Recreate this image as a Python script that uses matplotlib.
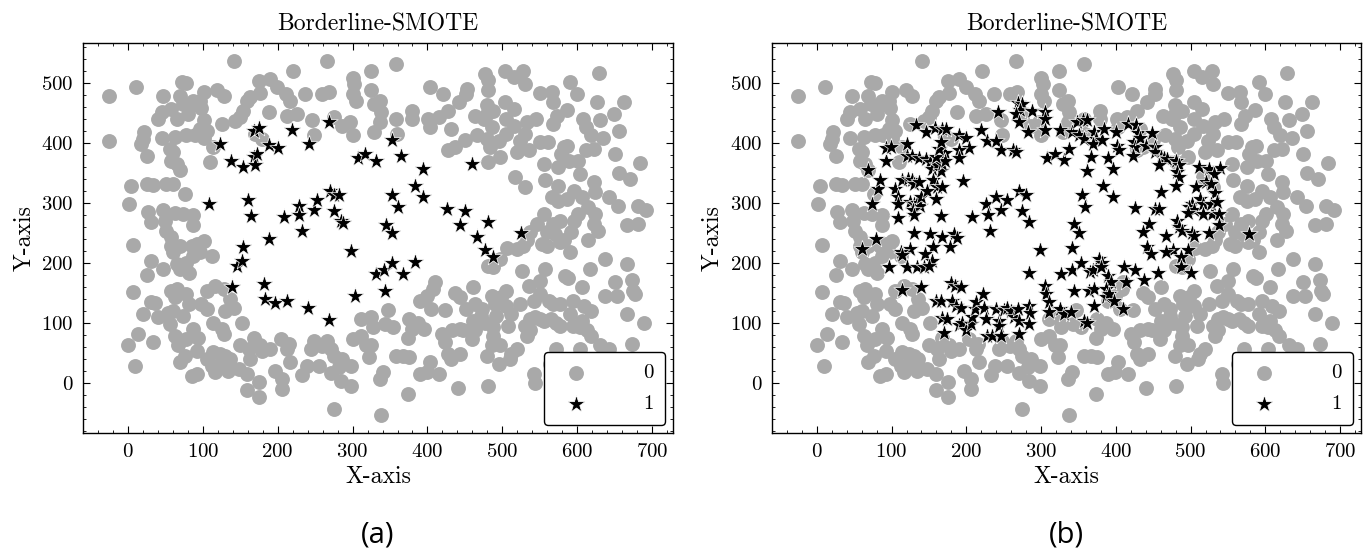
import numpy as np
import matplotlib
matplotlib.use('Agg')
import matplotlib.pyplot as plt
from matplotlib.ticker import MultipleLocator

plt.rcParams['font.family'] = 'cmr10'
plt.rcParams['mathtext.fontset'] = 'cm'
plt.rcParams['axes.formatter.use_mathtext'] = True

# class 0 (majority) points, shared by both panels
gray_pts = [
    (-25, 479), (-25, 403), (11, 494), (141, 537), (266, 537), (324, 521), (47, 479), (40, 441),
    (45, 452), (58, 457), (69, 479), (72, 502), (78, 500), (65, 441), (73, 466), (80, 460),
    (80, 449), (87, 471), (96, 471), (101, 485), (98, 459), (119, 488), (128, 479), (125, 432),
    (101, 438), (96, 424), (105, 421), (78, 413), (89, 413), (101, 409), (63, 411), (45, 409),
    (22, 418), (20, 407), (18, 399), (25, 379), (56, 391), (60, 385), (58, 371), (65, 366),
    (69, 356), (110, 369), (114, 393), (4, 328), (25, 332), (34, 331), (51, 332), (60, 332),
    (76, 316), (2, 298), (27, 285), (31, 268), (47, 289), (49, 271), (51, 254), (63, 283),
    (74, 282), (87, 281), (87, 263), (58, 243), (7, 231), (101, 237), (92, 232),
    (143, 437), (150, 443), (154, 454), (159, 471), (163, 477), (175, 504), (177, 483), (170, 416),
    (179, 407), (190, 507), (199, 493), (211, 482), (217, 471), (188, 452), (213, 446), (226, 448),
    (221, 520), (237, 482), (259, 482), (268, 485), (246, 438), (248, 413), (275, 443), (286, 429),
    (297, 435), (300, 413), (300, 509), (302, 499), (300, 482), (304, 471), (324, 488),
    (358, 532), (329, 466), (336, 471), (338, 452), (336, 435), (329, 419), (358, 441), (359, 416),
    (379, 454), (379, 441), (401, 441), (403, 427), (415, 443), (403, 494), (421, 482), (428, 454),
    (432, 424), (442, 468), (453, 491), (452, 482), (428, 388), (437, 393), (450, 406), (466, 413),
    (463, 446), (477, 516), (481, 506), (481, 488), (479, 463), (479, 449), (475, 441), (488, 454),
    (486, 427), (479, 407), (483, 393), (481, 368), (497, 377), (495, 404), (504, 521), (515, 510),
    (528, 520), (530, 499), (504, 468), (515, 457), (505, 441), (516, 429), (505, 416), (519, 385),
    (523, 404), (533, 435), (545, 441), (530, 416), (536, 388), (550, 483), (566, 485), (568, 468),
    (568, 432), (573, 446), (550, 402), (561, 402), (555, 366), (557, 338), (517, 343), (530, 327),
    (575, 329), (578, 382), (582, 393), (587, 396), (589, 371), (575, 360), (604, 349), (601, 371),
    (586, 456), (591, 502), (600, 482), (608, 441), (612, 427), (619, 413), (612, 388), (622, 391),
    (626, 468), (629, 517), (631, 438), (635, 409), (649, 449), (656, 421), (663, 468), (650, 382),
    (656, 350), (670, 341), (684, 367), (566, 310), (575, 304), (586, 307), (596, 321), (606, 310),
    (622, 335), (624, 318), (642, 310), (655, 296), (681, 296), (692, 289), (681, 266), (667, 263),
    (624, 282), (615, 293), (601, 282), (596, 271), (592, 252), (583, 238), (615, 238), (628, 254),
    (622, 266), (577, 271), (568, 266), (555, 282), (546, 266), (559, 252), (570, 249), (577, 235),
    (553, 232), (537, 252), (533, 238),
    (31, 204), (47, 190), (25, 180), (7, 152), (20, 115), (31, 135), (36, 134), (40, 110),
    (54, 117), (56, 99), (60, 121), (58, 154), (65, 157), (63, 143), (74, 112), (78, 148),
    (81, 132), (63, 79), (67, 63), (78, 74), (87, 91), (94, 75), (76, 46), (69, 36),
    (92, 53), (85, 12), (92, 16), (13, 82), (9, 29), (0, 63), (34, 69), (60, 218),
    (65, 198), (69, 190), (81, 184), (78, 201), (87, 212), (85, 229), (96, 218), (112, 212),
    (69, 229), (58, 229), (105, 154), (116, 162), (128, 157), (136, 140), (141, 126), (98, 132),
    (105, 124), (114, 101), (125, 90), (128, 82), (130, 121), (152, 101), (105, 40), (112, 29),
    (114, 52), (116, 18), (123, 48), (125, 35), (130, 46), (134, 21), (136, 40), (148, 24),
    (150, 63), (161, 57), (163, 40), (159, 15), (159, -12), (175, 2), (175, -23), (177, 63),
    (168, 76), (179, 54), (190, 57), (204, 74), (197, 21), (206, 7), (206, -10), (213, 57),
    (215, 65), (217, 35), (233, 13), (239, 29), (244, 57), (248, 71), (255, 29), (259, 62),
    (266, 71), (271, 57), (275, 46), (271, 17), (282, 27), (286, 40), (284, 4), (298, 29),
    (298, -4), (300, 74), (275, -43), (311, 107), (324, 111), (311, 79), (318, 63), (322, 43),
    (327, 93), (325, 63), (336, 7), (341, 18), (338, -53), (347, 122), (343, 99), (354, 93),
    (358, 46), (367, 46), (375, 43), (374, -18), (390, 16), (399, 18), (416, 16), (403, 35),
    (390, 137), (399, 146), (410, 168), (408, 157), (405, 124), (375, 107), (380, 90), (374, 76),
    (387, 101), (396, 90), (423, 122), (420, 82), (424, 68), (428, 49), (433, 88), (443, 90),
    (432, 40), (443, 49), (441, -8), (448, 88), (437, 151), (443, 143), (452, 124), (461, 160),
    (461, 104), (459, 74), (464, 132), (464, 88), (473, 124), (472, 112), (477, 101), (479, 46),
    (481, -4), (481, 196), (486, 146), (490, 132), (492, 112), (488, 93), (488, 79), (486, 63),
    (495, 32), (497, 63), (498, 143), (505, 154), (505, 129), (512, 115), (508, 96), (512, 49),
    (510, 40), (519, 57), (524, 132), (526, 187), (530, 96), (533, 79), (537, 88), (537, 107),
    (544, 110), (550, 107), (555, 104), (535, 162), (542, 137), (542, 16), (543, 0), (550, 148),
    (550, 171), (557, 190), (562, 137), (568, 132), (565, 107), (572, 101), (577, 96), (572, 57),
    (572, 40), (563, 32), (579, -1), (584, 179), (588, 176), (577, 132), (591, 115), (595, 137),
    (606, 160), (609, 129), (618, 121), (606, 104), (595, 96), (604, 93), (613, 88), (618, 79),
    (617, 190), (637, 207), (637, 146), (631, 63), (642, 57), (653, 146), (650, 168), (666, 198),
    (673, 172), (675, 154), (677, 148), (666, 115), (673, 66), (689, 101), (604, 57), (506, 226),
    (519, 223), (528, 229), (559, 229), (591, 218), (488, 193), (497, 207),
]

# class 1 (minority) points, original data - panel (a)
stars_a = [
    (123, 399), (137, 371), (154, 361), (168, 421), (175, 426), (168, 377), (169, 364), (173, 382),
    (188, 397), (201, 392), (219, 422), (242, 399), (268, 435), (307, 376), (317, 382), (331, 371),
    (108, 298), (160, 306), (164, 278), (188, 241), (209, 277), (228, 296), (228, 281), (233, 254),
    (249, 289), (253, 306), (270, 321), (275, 314), (282, 314), (275, 287), (284, 270), (287, 267),
    (154, 227), (298, 221), (352, 406), (365, 378), (394, 357), (383, 328), (394, 311), (353, 313),
    (361, 293), (426, 291), (450, 287), (443, 264), (481, 268), (466, 244), (525, 250), (459, 366),
    (345, 264), (352, 250), (477, 222), (145, 196), (152, 204), (139, 160), (182, 165), (183, 140),
    (196, 133), (213, 137), (241, 126), (268, 106), (303, 146), (331, 182), (342, 189), (353, 201),
    (367, 182), (383, 202), (343, 154), (487, 211),
]

# class 1 after Borderline-SMOTE oversampling - panel (b)
stars_b = [
    (69, 356), (74, 298), (82, 324), (85, 338), (92, 371), (92, 392), (99, 394), (105, 324),
    (109, 310), (109, 298), (109, 276), (114, 338), (121, 399), (122, 341), (128, 338), (130, 332),
    (137, 335), (125, 302), (130, 298), (134, 300), (138, 296), (129, 289), (130, 281), (139, 310),
    (121, 378), (128, 378), (137, 376), (146, 374), (152, 368), (154, 357), (161, 363), (166, 354),
    (168, 366), (172, 383), (172, 371), (159, 377), (163, 391), (155, 338), (161, 327), (167, 327),
    (148, 321), (159, 307), (166, 279), (133, 431), (146, 418), (158, 426), (167, 424), (173, 424),
    (166, 402), (190, 413), (199, 409), (204, 392), (190, 388), (190, 376), (196, 337), (219, 422),
    (227, 404), (240, 403), (246, 389), (243, 452), (263, 388), (267, 385), (269, 467), (275, 466),
    (272, 456), (267, 449), (270, 435), (282, 418), (288, 454), (305, 452), (305, 441), (305, 422),
    (325, 422), (308, 376), (318, 382), (130, 250), (152, 248), (168, 244), (184, 248), (188, 242),
    (79, 241), (60, 224), (125, 224), (155, 227), (178, 227), (226, 298), (229, 281), (232, 254),
    (240, 310), (247, 289), (254, 306), (208, 277), (270, 320), (280, 314), (274, 287), (284, 268),
    (298, 222),
    (331, 372), (338, 391), (342, 418), (348, 435), (356, 438), (362, 439), (351, 413), (358, 407),
    (371, 418), (373, 407), (369, 399), (382, 405), (384, 424), (400, 418), (402, 396), (404, 388),
    (389, 376), (367, 377), (361, 353), (396, 357), (416, 432), (427, 431), (429, 417), (424, 402),
    (425, 393), (423, 379), (433, 409), (440, 396), (449, 417), (453, 394), (453, 385), (460, 377),
    (464, 376), (469, 374), (480, 371), (484, 363), (482, 352), (485, 344), (480, 329), (458, 364),
    (511, 361), (524, 357), (540, 359), (531, 348), (520, 335), (527, 332), (507, 327), (533, 317),
    (513, 307), (502, 299), (498, 293), (504, 288), (516, 299), (527, 298), (529, 282), (538, 282),
    (516, 282), (496, 283), (536, 302), (538, 263), (482, 271), (484, 260), (489, 254), (502, 250),
    (504, 246), (524, 250), (578, 248), (383, 328), (396, 311), (355, 313), (359, 293), (426, 292),
    (453, 290), (458, 291), (444, 265), (436, 252), (467, 246), (344, 266), (351, 250), (341, 226),
    (442, 227), (476, 222), (496, 222), (460, 318),
    (96, 194), (112, 218), (114, 213), (121, 194), (134, 194), (143, 194), (145, 215), (154, 204),
    (150, 196), (114, 156), (139, 161), (160, 137), (166, 137), (168, 108), (174, 107), (170, 84),
    (179, 167), (185, 162), (193, 160), (181, 137), (186, 129), (193, 126), (190, 97), (194, 101),
    (199, 89), (206, 99), (208, 110), (211, 124), (213, 136), (222, 148), (224, 126), (226, 107),
    (228, 79), (235, 79), (240, 124), (244, 104), (244, 96), (246, 79), (251, 122), (255, 126),
    (260, 121), (264, 110), (269, 124), (271, 104), (271, 82), (284, 129), (285, 117), (284, 99),
    (284, 184), (305, 162), (307, 148), (311, 135), (311, 119), (327, 182), (325, 124), (331, 115),
    (342, 189), (344, 154), (354, 200), (364, 154), (366, 185), (369, 188), (371, 157), (371, 129),
    (378, 207), (382, 201), (380, 193), (389, 179), (393, 168), (387, 157), (387, 143), (391, 148),
    (398, 137), (409, 124), (358, 104), (362, 101), (411, 194), (413, 169), (426, 189), (438, 172),
    (456, 184), (447, 215), (467, 218), (487, 211), (487, 194), (500, 184), (340, 118),
]

gray_x, gray_y = np.array(gray_pts).T
xa, ya = np.array(stars_a).T
xb, yb = np.array(stars_b).T


def draw_panel(ax, sx, sy):
    ax.scatter(gray_x, gray_y, s=115, c='#a9a9a9', linewidths=0, label='0', zorder=2)
    ax.scatter(sx, sy, s=170, marker='*', c='black', edgecolors='white',
               linewidths=0.5, label='1', zorder=3)
    ax.set_xlim(-60, 728)
    ax.set_ylim(-83, 567)
    ax.set_title('Borderline-SMOTE', fontsize=17, pad=9)
    ax.set_xlabel('X-axis', fontsize=17)
    ax.set_ylabel('Y-axis', fontsize=17)
    ax.set_xticks(range(0, 701, 100))
    ax.set_yticks(range(0, 501, 100))
    ax.xaxis.set_minor_locator(MultipleLocator(20))
    ax.yaxis.set_minor_locator(MultipleLocator(20))
    ax.tick_params(which='both', direction='in', top=True, right=True, labelsize=15)
    ax.tick_params(which='major', length=5, width=0.8, pad=7)
    ax.tick_params(which='minor', length=2.5, width=0.6)
    for sp in ax.spines.values():
        sp.set_linewidth(1.0)
    leg = ax.legend(loc='lower right', fontsize=15, frameon=True, fancybox=True,
                    edgecolor='black', framealpha=1, handletextpad=2.2,
                    borderpad=0.55, labelspacing=0.6, borderaxespad=0.4)
    leg.get_frame().set_linewidth(1.0)


fig = plt.figure(figsize=(13.68, 5.54), dpi=100)
ax_a = fig.add_axes([0.0607, 0.2184, 0.4313, 0.704])
ax_b = fig.add_axes([0.5643, 0.2184, 0.4306, 0.704])

draw_panel(ax_a, xa, ya)
draw_panel(ax_b, xb, yb)

fig.text(0.2763, 0.035, '(a)', ha='center', va='center', fontsize=21, family='Open Sans')
fig.text(0.7796, 0.035, '(b)', ha='center', va='center', fontsize=21, family='Open Sans')

fig.savefig('out.png', dpi=100)
